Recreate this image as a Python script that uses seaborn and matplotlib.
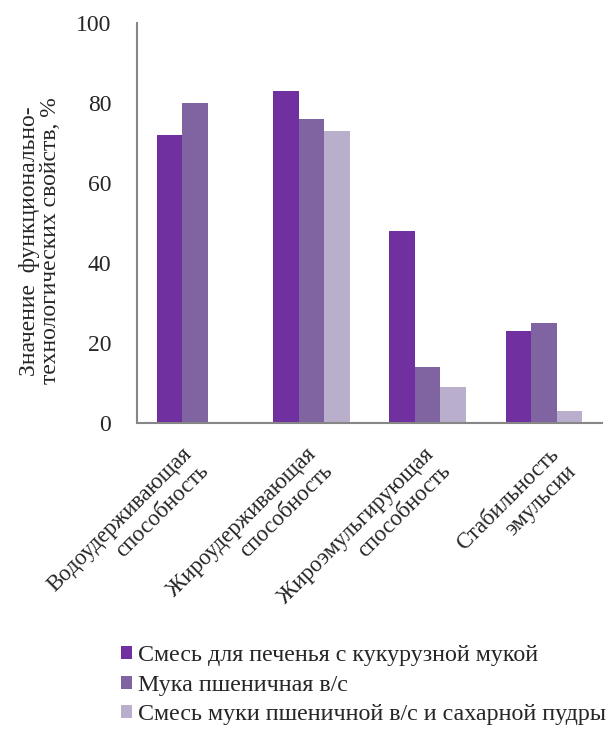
import matplotlib
matplotlib.use("Agg")
import matplotlib.pyplot as plt
import matplotlib.transforms as mtransforms
from matplotlib.patches import Patch
import numpy as np
import pandas as pd
import seaborn as sns

# Functional and technological properties of the mixes, %
categories = [
    "Водоудерживающая\nспособность",
    "Жироудерживающая\nспособность",
    "Жироэмульгирующая\nспособность",
    "Стабильность\nэмульсии",
]
series_names = [
    "Смесь для печенья с кукурузной мукой",
    "Мука пшеничная в/с",
    "Смесь муки пшеничной в/с и сахарной пудры",
]
corn_mix = [72, 83, 48, 23]
wheat_flour = [80, 76, 14, 25]
wheat_sugar_mix = [np.nan, 73, 9, 3]
y_ticks = [0, 20, 40, 60, 80, 100]

colors = ["#7030A0", "#8064A2", "#B9AECB"]
axis_gray = "#868686"
font_size = 17

sns.set_theme(style="white")
plt.rcParams["font.family"] = ["Liberation Serif", "DejaVu Serif"]

rows = []
for name, values in zip(series_names, [corn_mix, wheat_flour, wheat_sugar_mix]):
    for cat, v in zip(categories, values):
        rows.append({"category": cat, "series": name, "value": v})
df = pd.DataFrame(rows)

fig = plt.figure(figsize=(6.08, 7.29), dpi=100)
ax = fig.add_axes([137 / 608, 1 - 423 / 729, 465 / 608, 400 / 729])

sns.barplot(
    data=df, x="category", y="value", hue="series",
    order=categories, hue_order=series_names, palette=colors,
    width=0.66, gap=0, saturation=1, errorbar=None,
    edgecolor="none", legend=False, ax=ax,
)

ax.set_xlim(-0.5, len(categories) - 0.5)
ax.set_ylim(0, 100)
ax.set_yticks(y_ticks)
ax.set_yticklabels([str(t) for t in y_ticks], fontsize=font_size)

for side in ("top", "right"):
    ax.spines[side].set_visible(False)
for side in ("left", "bottom"):
    ax.spines[side].set_color(axis_gray)
    ax.spines[side].set_linewidth(1.5)

ax.tick_params(axis="y", which="major", direction="out", length=6.5,
               width=1.5, color=axis_gray, pad=12)

# category separators on the x axis
ax.set_xticks(np.arange(-0.5, len(categories)), minor=True)
ax.tick_params(axis="x", which="minor", direction="out", length=6.5,
               width=1.5, color=axis_gray)
ax.set_xticks(range(len(categories)))
ax.set_xticklabels(categories, rotation=45, ha="right", va="top",
                   rotation_mode="anchor", multialignment="right",
                   fontsize=16.4)
ax.tick_params(axis="x", which="major", length=0, pad=15)

# horizontal nudge of each rotated category label, px
label_nudge = [-14, -6, -5, 4]
for lbl, dx in zip(ax.get_xticklabels(), label_nudge):
    shift = mtransforms.ScaledTranslation(dx / 100, 0, fig.dpi_scale_trans)
    lbl.set_transform(lbl.get_transform() + shift)

ax.set_xlabel("")
ax.set_ylabel("Значение  функционально-\nтехнологических свойств, %",
              fontsize=font_size, ha="center", va="center",
              multialignment="center", linespacing=1.0)
ax.yaxis.set_label_coords(-0.208, 0.455)

handles = [Patch(facecolor=c, edgecolor="none") for c in colors]
fig.legend(handles, series_names, loc="upper left",
           bbox_to_anchor=(121 / 608, 1 - 645 / 729), frameon=False,
           fontsize=17.3, handlelength=0.45, handleheight=0.45,
           handletextpad=0.25, labelspacing=0.36, borderpad=0,
           borderaxespad=0)

fig.savefig("out.png", dpi=100)
